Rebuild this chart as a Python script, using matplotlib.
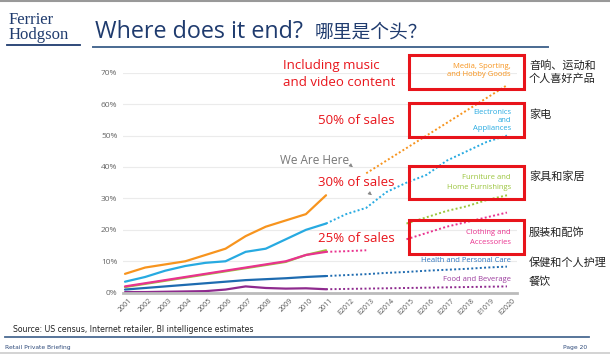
import matplotlib
matplotlib.use("Agg")
import matplotlib.pyplot as plt
from matplotlib.patches import Rectangle

plt.rcParams['font.family'] = ['Open Sans', 'Noto Sans CJK SC', 'DejaVu Sans']

# x axis labels (E1019 is how the source slide spells it)
years = ['2001', '2002', '2003', '2004', '2005', '2006', '2007', '2008', '2009', '2010',
         '2011', 'E2012', 'E2013', 'E2014', 'E2015', 'E2016', 'E2017', 'E2018', 'E1019', 'E2020']

# actual share of online sales 2001-2011 (%)
media_act = [6, 8, 9, 10, 12, 14, 18, 21, 23, 25, 31]
elec_act = [3.5, 5, 7, 8.5, 9.5, 10, 13, 14, 17, 20, 22]
furn_act = [1.8, 2.8, 3.8, 4.8, 5.8, 6.8, 7.8, 8.8, 9.8, 12, 13.5]
cloth_act = [2, 3, 4, 5, 6, 7, 8, 9, 10, 12, 13]
health_act = [1, 1.5, 2, 2.5, 3, 3.5, 4, 4.3, 4.6, 5, 5.3]
food_act = [0.2, 0.2, 0.3, 0.4, 0.5, 1, 2, 1.5, 1.3, 1.4, 1.1]

# estimates 2011-2020 (%), None = no line drawn
media_est = [None, None, 38, 42, 46, 50, 54, 58, 62, 66]
elec_est = [22, 25, 27, 32, 35, 37.5, 42, 45, 48, 50]
furn_est = [None, None, None, None, 22, 24, 26, 27.5, 29.5, 31]
cloth_est = [13, 13.2, 13.5, None, 17, 19, 21, 22.5, 24, 25.5]
health_est = [5.3, 5.6, 5.9, 6.3, 6.6, 7.0, 7.3, 7.6, 8.0, 8.3]
food_est = [1.1, 1.2, 1.3, 1.4, 1.5, 1.6, 1.7, 1.8, 1.9, 2.0]

c_media = '#F7941E'
c_elec = '#27AAE1'
c_furn = '#9BC53D'
c_cloth = '#E9338F'
c_health = '#1E6BB0'
c_food = '#8E2A8E'
red = '#E8141B'
navy = '#1F3B6E'

W, H = 610, 354
fig = plt.figure(figsize=(W / 100, H / 100), dpi=100)

# chart axes, placed in pixels
left, right, top, bottom = 123, 517, 72.7, 292.7
ax = fig.add_axes([left / W, 1 - bottom / H, (right - left) / W, (bottom - top) / H])
ax.set_xlim(-0.1, 19.5)
ax.set_ylim(0, 70)

act_x = list(range(11))
est_x = list(range(10, 20))
series = [
    (furn_act, furn_est, c_furn),
    (food_act, food_est, c_food),
    (health_act, health_est, c_health),
    (cloth_act, cloth_est, c_cloth),
    (elec_act, elec_est, c_elec),
    (media_act, media_est, c_media),
]
for act, est, col in series:
    ax.plot(act_x, act, color=col, lw=1.6, solid_capstyle='round')
    ev = [float('nan') if v is None else v for v in est]
    ax.plot(est_x, ev, color=col, lw=1.4, linestyle=(0, (1, 1.2)))

ax.set_yticks(range(0, 80, 10))
ax.set_yticklabels([f'{v}%' for v in range(0, 80, 10)], fontsize=6, color='#666666')
ax.set_xticks(range(20))
ax.set_xticklabels(years, rotation=45, ha='center', fontsize=5, color='#555555')
ax.tick_params(length=0, pad=4)
ax.tick_params(axis='x', pad=3)
ax.grid(axis='y', color='#EBEBEB', lw=0.8)
ax.set_axisbelow(True)
for s in ['top', 'right', 'left']:
    ax.spines[s].set_visible(False)
ax.spines['bottom'].set_color('#BBBBBB')
ax.spines['bottom'].set_linewidth(2)

# overlay in pixel coordinates for slide furniture
ov = fig.add_axes([0, 0, 1, 1])
ov.set_xlim(0, W)
ov.set_ylim(H, 0)
ov.axis('off')
ov.patch.set_alpha(0)

ov.plot([0, W], [0.8, 0.8], color='#999999', lw=1.5)
ov.plot([0, W], [352.5, 352.5], color='#CCCCCC', lw=1.2)

ov.text(9, 12, 'Ferrier\nHodgson', family='Liberation Serif', fontsize=12, color=navy,
        va='top', linespacing=0.92)
ov.plot([7, 80], [44.5, 44.5], color=navy, lw=1.3)

ov.text(95, 38, 'Where does it end?', fontsize=16.8, color=navy, va='baseline')
ov.text(315, 38, '哪里是个头？', family=['Noto Sans CJK SC', 'DejaVu Sans'], fontsize=13.5,
        color=navy, va='baseline')
ov.plot([93, 548], [46.5, 46.5], color='#4A6A92', lw=1.4)

# red boxes and category labels
boxes = [(55, 89), (103, 137), (166, 199), (220, 254)]
for y0, y1 in boxes:
    ov.add_patch(Rectangle((409, y0), 115, y1 - y0, fill=False, ec=red, lw=2.2, zorder=5))

lab_kw = dict(fontsize=5.5, ha='right', va='center')
ov.text(511, 66.5, 'Media, Sporting,', color=c_media, **lab_kw)
ov.text(511, 75, 'and Hobby Goods', color=c_media, **lab_kw)
ov.text(511, 112.7, 'Electronics', color=c_elec, **lab_kw)
ov.text(511, 120.7, 'and', color=c_elec, **lab_kw)
ov.text(511, 129, 'Appliances', color=c_elec, **lab_kw)
ov.text(511, 177.7, 'Furniture and', color=c_furn, **lab_kw)
ov.text(511, 187.3, 'Home Furnishings', color=c_furn, **lab_kw)
ov.text(511, 232, 'Clothing and', color=c_cloth, **lab_kw)
ov.text(511, 242, 'Accessories', color=c_cloth, **lab_kw)
ov.text(511, 260.7, 'Health and Personal Care', color='#2E75C0', **lab_kw)
ov.text(511, 279.3, 'Food and Beverage', color='#9C3C9E', **lab_kw)

cn_kw = dict(family=['Noto Sans CJK SC', 'DejaVu Sans'], fontsize=8, color='#222222', va='center')
ov.text(529, 65, '音响、运动和', **cn_kw)
ov.text(529, 79, '个人喜好产品', **cn_kw)
ov.text(529, 115, '家电', **cn_kw)
ov.text(529, 176, '家具和家居', **cn_kw)
ov.text(529, 233, '服装和配饰', **cn_kw)
ov.text(529, 262.7, '保健和个人护理', **cn_kw)
ov.text(529, 281.7, '餐饮', **cn_kw)

red_kw = dict(fontsize=9.5, color=red, va='center')
ov.text(283, 65, 'Including music', **red_kw)
ov.text(283, 82, 'and video content', **red_kw)
ov.text(318, 120, '50% of sales', **red_kw)
ov.text(318, 183, '30% of sales', **red_kw)
ov.text(318, 239, '25% of sales', **red_kw)

ov.text(280, 160, 'We Are Here', fontsize=8.5, color='#777777', va='center')
for x0, y0, x1, y1 in [(349, 164, 355, 169), (368, 192, 374, 197)]:
    ov.annotate('', xy=(x1, y1), xytext=(x0, y0),
                arrowprops=dict(arrowstyle='-|>', color='#888888', lw=0.6, mutation_scale=5))

ov.text(13, 332, 'Source: US census, Internet retailer, BI intelligence estimates',
        family='DejaVu Sans', fontsize=5.6, color='#222222', va='baseline')
ov.plot([5, 589], [337, 337], color='#4A6A92', lw=1.3)
ov.text(5, 347, 'Retail Private Briefing', family='DejaVu Sans', fontsize=4.3, color='#2E4A7A', va='center')
ov.text(587, 347, 'Page 20', family='DejaVu Sans', fontsize=4.3, color='#2E4A7A', va='center', ha='right')

fig.savefig('out.png', dpi=100)
